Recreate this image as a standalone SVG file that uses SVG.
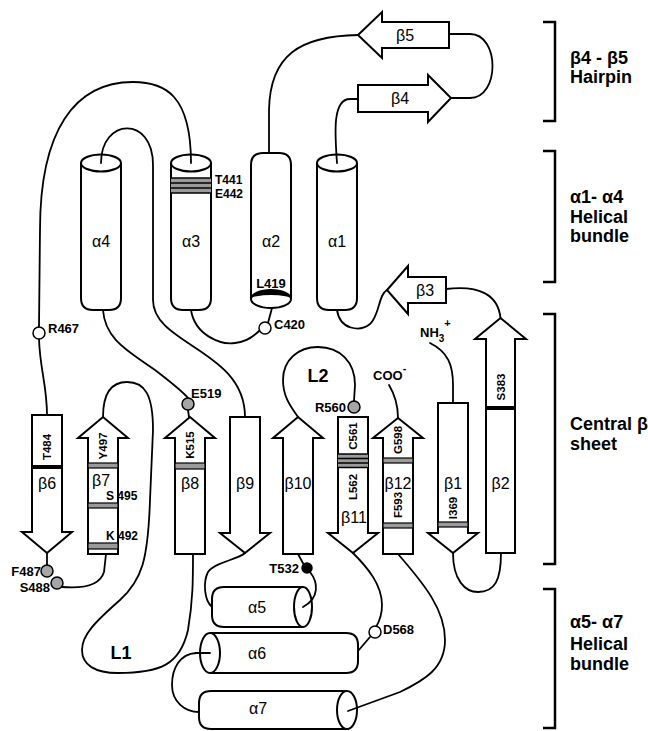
<svg xmlns="http://www.w3.org/2000/svg" width="648" height="731" viewBox="0 0 648 731">
<style>
.sh{fill:#fff;stroke:#000;stroke-width:2;stroke-linejoin:miter}
.ln{fill:none;stroke:#000;stroke-width:1.8;stroke-linecap:round}
.br{fill:none;stroke:#000;stroke-width:2.5}
.band{fill:#9a9a9a;stroke:#000;stroke-width:1.2}
.bar{fill:#000}
.open{fill:#fff;stroke:#000;stroke-width:1.5}
.gray{fill:#a6a6a6;stroke:#000;stroke-width:1.5}
.blk{fill:#000;stroke:#000;stroke-width:1.5}
text{font-family:"Liberation Sans",Arial,sans-serif;fill:#000}
.res{font-size:13px;font-weight:bold}
.sres{font-size:12px;font-weight:bold}
.vres{font-size:11.5px;font-weight:bold}
.lab{font-size:16px}
.big{font-size:18px;font-weight:bold}
.side{font-size:18px;font-weight:bold}
</style>

<!-- helices alpha1-alpha4 -->
<g id="a4">
<path class="sh" d="M81,163 L81,298 Q81,310 93,310 L109,310 Q121,310 121,298 L121,163"/>
<ellipse class="sh" cx="101" cy="163" rx="20" ry="8.5"/>
<text class="lab" x="101" y="247" text-anchor="middle">α4</text>
</g>
<g id="a3">
<path class="sh" d="M171,163 L171,298 Q171,310 183,310 L199,310 Q211,310 211,298 L211,163"/>
<ellipse class="sh" cx="191" cy="163" rx="20" ry="8.5"/>
<rect x="171" y="178" width="40" height="15" fill="#9a9a9a"/>
<path d="M171,178H211M171,183H211M171,188H211M171,193H211" stroke="#000" stroke-width="1.5"/>
<text class="lab" x="191" y="247" text-anchor="middle">α3</text>
<text class="sres" x="215" y="184">T441</text>
<text class="sres" x="215" y="198">E442</text>
</g>
<g id="a2">
<path class="sh" d="M251,299 L251,165 Q251,153 263,153 L279,153 Q291,153 291,165 L291,299"/>
<ellipse class="sh" cx="271" cy="299" rx="20" ry="9"/>
<path d="M251,299 A20,9 0 0 1 291,299 A20,4 0 0 0 251,299 Z" fill="#000"/>
<text class="lab" x="271" y="247" text-anchor="middle">α2</text>
<text class="res" x="271" y="288" text-anchor="middle">L419</text>
</g>
<g id="a1">
<path class="sh" d="M317,163 L317,298 Q317,310 329,310 L345,310 Q357,310 357,298 L357,163"/>
<ellipse class="sh" cx="337" cy="163" rx="20" ry="8.5"/>
<text class="lab" x="337" y="247" text-anchor="middle">α1</text>
</g>

<!-- hairpin strands -->
<g id="b5">
<path class="sh" d="M449,22 L382,22 L382,12 L358,35 L382,58 L382,48 L449,48 Z"/>
<text class="lab" x="405" y="41" text-anchor="middle">β5</text>
</g>
<g id="b4">
<path class="sh" d="M358,85 L428,85 L428,75 L451,98 L428,122 L428,112 L358,112 Z"/>
<text class="lab" x="400" y="104" text-anchor="middle">β4</text>
</g>
<g id="b3">
<path class="sh" d="M446,277 L408,277 L408,266 L387,290 L408,314 L408,303 L446,303 Z"/>
<text class="lab" x="425" y="296" text-anchor="middle">β3</text>
</g>

<!-- central sheet -->
<g id="b6">
<path class="sh" d="M32,415 L62,415 L62,532 L72,532 L47,553 L22,532 L32,532 Z"/>
<rect class="bar" x="32" y="465" width="30" height="4"/>
<text class="vres" transform="translate(47,447) rotate(-90)" text-anchor="middle" dy="0.36em">T484</text>
<text class="lab" x="47" y="489" text-anchor="middle">β6</text>
</g>
<g id="b7">
<path class="sh" d="M88,554 L88,438 L78,438 L103,417 L128,438 L118,438 L118,554 Z"/>
<rect class="band" x="88" y="463" width="30" height="5"/>
<rect class="band" x="88" y="503" width="30" height="5"/>
<rect class="band" x="88" y="543" width="30" height="6"/>
<text class="vres" transform="translate(103,446) rotate(-90)" text-anchor="middle" dy="0.36em">Y497</text>
<text class="lab" x="101" y="486" text-anchor="middle">β7</text>
<text class="sres" x="106" y="500">S 495</text>
<text class="sres" x="106" y="540">K 492</text>
</g>
<g id="b8">
<path class="sh" d="M175,554 L175,438 L165,438 L190,417 L215,438 L205,438 L205,554 Z"/>
<rect class="band" x="175" y="463" width="30" height="6"/>
<text class="vres" transform="translate(190,445) rotate(-90)" text-anchor="middle" dy="0.36em">K515</text>
<text class="lab" x="190" y="489" text-anchor="middle">β8</text>
</g>
<g id="b9">
<path class="sh" d="M230,417 L260,417 L260,533 L270,533 L245,553 L220,533 L230,533 Z"/>
<text class="lab" x="245" y="489" text-anchor="middle">β9</text>
</g>
<g id="b10">
<path class="sh" d="M283,554 L283,438 L273,438 L298,417 L323,438 L313,438 L313,554 Z"/>
<text class="lab" x="298" y="489" text-anchor="middle">β10</text>
</g>
<g id="b11">
<path class="sh" d="M338,417 L368,417 L368,533 L378,533 L353,553 L328,533 L338,533 Z"/>
<rect x="338" y="454" width="30" height="13" fill="#9a9a9a"/>
<path d="M338,454H368M338,458.5H368M338,463H368M338,467.5H368" stroke="#000" stroke-width="1.5"/>
<text class="vres" transform="translate(353,436) rotate(-90)" text-anchor="middle" dy="0.36em">C561</text>
<text class="vres" transform="translate(353,487) rotate(-90)" text-anchor="middle" dy="0.36em">L562</text>
<text class="lab" x="354" y="523" text-anchor="middle">β11</text>
</g>
<g id="b12">
<path class="sh" d="M383,554 L383,438 L373,438 L398,418 L423,438 L413,438 L413,554 Z"/>
<rect class="band" x="383" y="458" width="30" height="5"/>
<rect class="band" x="383" y="523" width="30" height="5"/>
<text class="vres" transform="translate(398,440) rotate(-90)" text-anchor="middle" dy="0.36em">G598</text>
<text class="vres" transform="translate(398,505) rotate(-90)" text-anchor="middle" dy="0.36em">F593</text>
<text class="lab" x="398" y="489" text-anchor="middle">β12</text>
</g>
<g id="b1">
<path class="sh" d="M438,403 L468,403 L468,533 L478,533 L453,553 L428,533 L438,533 Z"/>
<rect class="band" x="438" y="522" width="30" height="5"/>
<text class="vres" transform="translate(453,508) rotate(-90)" text-anchor="middle" dy="0.36em">I369</text>
<text class="lab" x="453" y="489" text-anchor="middle">β1</text>
</g>
<g id="b2">
<path class="sh" d="M486,553 L486,339 L475,339 L500.5,318 L526,339 L515,339 L515,553 Z"/>
<rect class="bar" x="486" y="406" width="29" height="4"/>
<text class="vres" transform="translate(500.5,387) rotate(-90)" text-anchor="middle" dy="0.36em">S383</text>
<text class="lab" x="500.5" y="489" text-anchor="middle">β2</text>
</g>

<!-- helices alpha5-alpha7 -->
<g id="a5">
<path class="sh" d="M303,587 L224,587 Q212,587 212,599 L212,615 Q212,627 224,627 L303,627"/>
<ellipse class="sh" cx="303" cy="607" rx="9" ry="20"/>
<text class="lab" x="257" y="613" text-anchor="middle">α5</text>
</g>
<g id="a6">
<path class="sh" d="M210,633 L346,633 Q358,633 358,645 L358,661 Q358,673 346,673 L210,673"/>
<ellipse class="sh" cx="210" cy="653" rx="10" ry="20"/>
<text class="lab" x="257" y="659" text-anchor="middle">α6</text>
</g>
<g id="a7">
<path class="sh" d="M347,691 L211,691 Q199,691 199,703 L199,717 Q199,729 211,729 L347,729"/>
<ellipse class="sh" cx="347" cy="710" rx="10" ry="19"/>
<text class="lab" x="258" y="714" text-anchor="middle">α7</text>
</g>

<!-- connectors -->
<g id="connectors">
<path class="ln" d="M101,163 C101,118 153,115 153,165 L153,300 C153,345 245,350 245,417"/>
<path class="ln" d="M191,163 C191,95 165,82 133,82 C75,82 40,130 40,230 L39,327"/>
<path class="ln" d="M39,339 C40,370 47,385 47,415"/>
<path class="ln" d="M269,153 L269,110 C270,55 300,36 358,35"/>
<path class="ln" d="M449,34 L470,34 C500,34 500,98 470,98 L451,98"/>
<path class="ln" d="M337,163 C335,135 332,99 350,99 L358,99"/>
<path class="ln" d="M191,310 C195,335 220,345 235,343 C248,342 255,335 259,331"/>
<path class="ln" d="M268,323 L272,308"/>
<path class="ln" d="M337,310 C340,330 360,332 370,324 C380,315 378,295 387,290"/>
<path class="ln" d="M446,289 C480,285 498,295 500.5,318"/>
<path class="ln" d="M430,343 C448,352 453,365 453,385 L453,403"/>
<path class="ln" d="M453,553 C453,580 465,592 478,592 C495,592 501,580 501,553"/>
<path class="ln" d="M389,385 C395,395 398,405 398,418"/>
<path class="ln" d="M103,310 C105,340 130,352 155,370 C172,383 183,392 188,398"/>
<path class="ln" d="M188,410 L189,417"/>
<path class="ln" d="M103,417 C103,392 112,382 127,382 C145,382 153,395 153,430 L150,500 C148,560 142,580 120,600 C95,622 82,635 82,650 C82,665 95,673 118,673 C160,673 180,665 188,630 C193,600 193,580 193,554"/>
<path class="ln" d="M47,553 L47,565"/>
<path class="ln" d="M62,587 C85,589 100,585 104,572 L106,554"/>
<path class="ln" d="M298,417 C292,408 283,398 283,380 C283,360 298,347 318,347 C340,347 355,362 355,385 L354,401"/>
<path class="ln" d="M298,554 L304,565"/>
<path class="ln" d="M310,572 C318,582 320,598 303,607"/>
<path class="ln" d="M245,553 C237,560 215,562 208,572 C203,582 204,600 212,607"/>
<path class="ln" d="M353,553 C368,568 382,585 382,605 C382,615 379,622 376,627"/>
<path class="ln" d="M370,637 L358,651"/>
<path class="ln" d="M210,653 L196,653 C180,654 172,668 172,685 C172,702 185,712 199,712"/>
<path class="ln" d="M398,554 C425,585 445,610 445,640 C445,668 425,680 400,692 L348,711"/>
</g>

<!-- residue markers -->
<g id="R467"><circle class="open" cx="39" cy="333" r="6"/><text class="res" x="48" y="333">R467</text></g>
<g id="C420"><circle class="open" cx="265" cy="328" r="6"/><text class="res" x="274" y="329">C420</text></g>
<g id="E519"><circle class="gray" cx="188" cy="404" r="6"/><text class="res" x="191" y="398">E519</text></g>
<g id="R560"><circle class="gray" cx="354" cy="407" r="6"/><text class="res" x="346" y="412" text-anchor="end">R560</text></g>
<g id="F487"><circle class="gray" cx="47" cy="571" r="6"/><text class="res" x="41" y="576" text-anchor="end">F487</text></g>
<g id="S488"><circle class="gray" cx="57" cy="583" r="6"/><text class="res" x="50" y="592" text-anchor="end">S488</text></g>
<g id="T532"><circle class="blk" cx="307" cy="568" r="5"/><text class="res" x="299" y="573" text-anchor="end">T532</text></g>
<g id="D568"><circle class="open" cx="375" cy="632" r="6"/><text class="res" x="383" y="634">D568</text></g>

<!-- termini and loop labels -->
<g id="NH3"><text class="res" x="420" y="337">NH<tspan font-size="10" dy="5">3</tspan><tspan font-size="11" dy="-15">+</tspan></text></g>
<g id="COO"><text class="res" x="373" y="380">COO<tspan font-size="11" dy="-8">-</tspan></text></g>
<g id="L2"><text class="big" x="318" y="382" text-anchor="middle">L2</text></g>
<g id="L1"><text class="big" x="121" y="659" text-anchor="middle">L1</text></g>

<!-- domain brackets -->
<g id="dom1">
<path class="br" d="M543,22 H555 V121 H543"/>
<text class="side" x="570" y="64">β4 - β5</text>
<text class="side" x="570" y="83">Hairpin</text>
</g>
<g id="dom2">
<path class="br" d="M543,151 H555 V282 H543"/>
<text class="side" x="570" y="203">α1- α4</text>
<text class="side" x="570" y="223">Helical</text>
<text class="side" x="570" y="242">bundle</text>
</g>
<g id="dom3">
<path class="br" d="M543,314 H555 V564 H543"/>
<text class="side" x="570" y="430">Central β</text>
<text class="side" x="570" y="450">sheet</text>
</g>
<g id="dom4">
<path class="br" d="M543,589 H555 V728 H543"/>
<text class="side" x="570" y="628">α5- α7</text>
<text class="side" x="570" y="650">Helical</text>
<text class="side" x="570" y="670">bundle</text>
</g>
</svg>
